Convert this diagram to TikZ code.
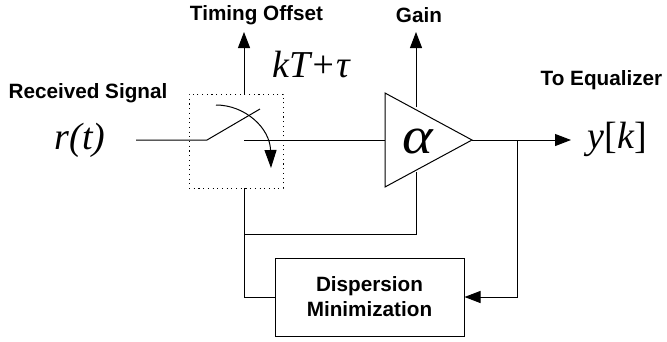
\documentclass[tikz,border=0pt]{standalone}
\usepackage{fontspec}
\setmainfont{Liberation Sans}
\newfontfamily\tms{Liberation Serif}
\usetikzlibrary{arrows.meta}
\tikzset{
  wire/.style={draw=black,line width=1pt},
  arrowline/.style={wire,-{Triangle[length=16pt,width=12pt]}},
  lab/.style={font=\fontsize{20.7}{25}\selectfont\bfseries,inner sep=0pt,align=center,text=black},
  mathlab/.style={font=\fontsize{38}{38}\selectfont\tms\itshape,inner sep=0pt,text=black},
  dmbox/.style={draw=black,line width=1pt,minimum width=189pt,minimum height=78pt,inner sep=0pt,lab},
  sampler/.style={draw=black,line width=0.9pt,dash pattern=on 1.1pt off 3.6pt,minimum width=94pt,minimum height=94pt,inner sep=0pt}
}
\begin{document}
\begin{tikzpicture}[x=1pt,y=-1pt]
\useasboundingbox (0,0) rectangle (667,341);
\node[lab] (timing) at (256.5,15.5) {Timing Offset};
\node[lab] (gain) at (419,15.5) {Gain};
\node[lab] (equal) at (601.5,80.5) {To Equalizer};
\node[lab] (recv) at (88,93) {Received Signal};
\node[mathlab] (kt) at (311,64) {kT+τ};
\node[mathlab] (rt) at (80,140) {r(t)};
\node[mathlab] (yk) at (617.5,139) {y{\upshape[}k{\upshape\kern1pt]}};
\node[sampler] (samp) at (236,141) {};
\node[dmbox] (dm) at (369.5,297) {Dispersion\\Minimization};
\coordinate (tl) at (385,93);
\coordinate (bl) at (385,187);
\coordinate (tip) at (472,140);
\draw[wire,line join=miter] (tl) -- (tip) -- (bl) -- cycle;
\node[mathlab,font=\fontsize{52}{52}\selectfont\tms\itshape,xscale=1.12] (alpha) at (417.5,141) {α};
\coordinate (in) at (136,140);
\coordinate (pivot) at (207,140);
\coordinate (blade) at (260,109);
\coordinate (contact) at (244,140);
\coordinate (timeTop) at (244,94);
\coordinate (timeEnd) at (244,32);
\coordinate (timeBot) at (244,188);
\coordinate (gainTop) at (416,107);
\coordinate (gainEnd) at (416,32);
\coordinate (gainBot) at (416,172);
\coordinate (gainCorner) at (416,234);
\coordinate (joint) at (244,234);
\coordinate (dmCorner) at (244,297);
\coordinate (out) at (571,140);
\coordinate (tap) at (517,140);
\coordinate (tapCorner) at (517,297);
\coordinate (swingA) at (216,105);
\coordinate (swingB) at (271,168);
\draw[wire] (in) -- (pivot) -- (blade);
\draw[wire] (contact) -- (tl |- contact);
\draw[arrowline] (timeTop) -- (timeEnd);
\draw[arrowline] (gainTop) -- (gainEnd);
\draw[wire] (timeBot) -- (dmCorner) -- (dm.west);
\draw[wire] (gainBot) -- (gainCorner) -- (joint);
\draw[arrowline] (tip) -- (out);
\draw[arrowline] (tap) -- (tapCorner) -- (dm.east);
\draw[wire,-{Triangle[length=18pt,width=12pt]}] (swingA) .. controls (245,105) and (270,128) .. (swingB);
\end{tikzpicture}
\end{document}
